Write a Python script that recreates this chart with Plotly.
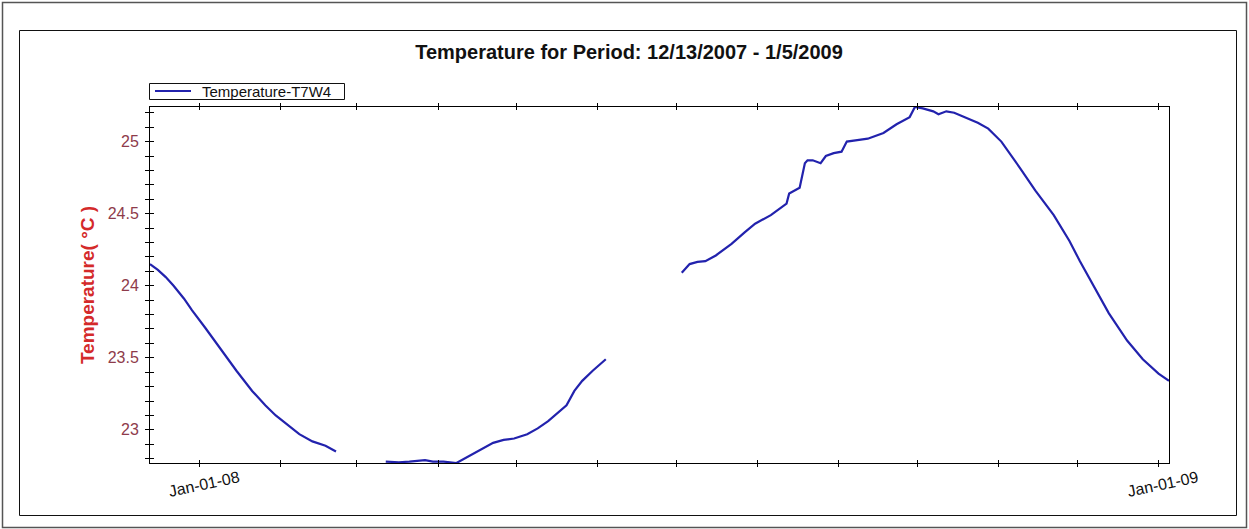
import plotly.graph_objects as go

# ---- data: water temperature readings, three logging periods ----
dates_1 = ["2007-12-13", "2007-12-16", "2007-12-19", "2007-12-22", "2007-12-26",
           "2007-12-29", "2008-01-03", "2008-01-07", "2008-01-11", "2008-01-15",
           "2008-01-21", "2008-01-26", "2008-01-30", "2008-02-04", "2008-02-08",
           "2008-02-13", "2008-02-18", "2008-02-22"]
temps_1 = [24.15, 24.11, 24.06, 24.00, 23.91,
           23.83, 23.71, 23.61, 23.51, 23.41,
           23.27, 23.17, 23.10, 23.03, 22.97,
           22.92, 22.89, 22.85]

dates_2 = ["2008-03-12", "2008-03-17", "2008-03-21", "2008-03-25", "2008-03-27",
           "2008-03-30", "2008-04-03", "2008-04-08", "2008-04-11", "2008-04-14",
           "2008-04-18", "2008-04-22", "2008-04-26", "2008-04-30", "2008-05-05",
           "2008-05-09", "2008-05-13", "2008-05-17", "2008-05-20", "2008-05-23",
           "2008-05-26", "2008-05-30", "2008-06-04"]
temps_2 = [22.78, 22.775, 22.78, 22.785, 22.79,
           22.78, 22.78, 22.77, 22.80, 22.83,
           22.87, 22.91, 22.93, 22.94, 22.97,
           23.01, 23.06, 23.12, 23.17, 23.27,
           23.34, 23.41, 23.49]

dates_3 = ["2008-07-03", "2008-07-06", "2008-07-09", "2008-07-12", "2008-07-16",
           "2008-07-22", "2008-07-27", "2008-07-31", "2008-08-06", "2008-08-11",
           "2008-08-12", "2008-08-13", "2008-08-16", "2008-08-17", "2008-08-19",
           "2008-08-20", "2008-08-22", "2008-08-25", "2008-08-27", "2008-08-30",
           "2008-09-02", "2008-09-04", "2008-09-08", "2008-09-12", "2008-09-18",
           "2008-09-23", "2008-09-28", "2008-09-30", "2008-10-03", "2008-10-07",
           "2008-10-09", "2008-10-12", "2008-10-15", "2008-10-19", "2008-10-24",
           "2008-10-28", "2008-11-02", "2008-11-09", "2008-11-15", "2008-11-22",
           "2008-11-28", "2008-12-02", "2008-12-07", "2008-12-13", "2008-12-20",
           "2008-12-26", "2009-01-01", "2009-01-05"]
temps_3 = [24.09, 24.15, 24.165, 24.17, 24.21,
           24.29, 24.37, 24.43, 24.49, 24.56,
           24.57, 24.64, 24.67, 24.68, 24.85,
           24.87, 24.87, 24.85, 24.90, 24.92,
           24.93, 25.00, 25.01, 25.02, 25.06,
           25.12, 25.17, 25.24, 25.23, 25.21,
           25.19, 25.21, 25.20, 25.17, 25.13,
           25.09, 25.00, 24.82, 24.66, 24.49,
           24.31, 24.17, 24.01, 23.81, 23.62,
           23.49, 23.39, 23.34]

month_ticks = ["2008-01-01", "2008-02-01", "2008-03-01", "2008-04-01", "2008-05-01",
               "2008-06-01", "2008-07-01", "2008-08-01", "2008-09-01", "2008-10-01",
               "2008-11-01", "2008-12-01", "2009-01-01"]
month_labels = ["Jan-01-08", "", "", "", "", "", "", "", "", "", "", "", "Jan-01-09"]

y_ticks = [23, 23.5, 24, 24.5, 25]
y_labels = ["23", "23.5", "24", "24.5", "25"]

x_range = ["2007-12-13", "2009-01-05"]
y_range = [22.77, 25.24]

series_name = "Temperature-T7W4"
series_color = "#2222ad"

# gaps between logging periods are left unconnected
dates = dates_1 + [None] + dates_2 + [None] + dates_3
temps = temps_1 + [None] + temps_2 + [None] + temps_3

W, H = 1249, 529
ML, MR, MT, MB = 150, 80, 107, 66
PW, PH = W - ML - MR, H - MT - MB


def px(x):
    """pixel column -> paper fraction"""
    return (x - ML) / PW


def py(y):
    """pixel row -> paper fraction"""
    return (H - MB - y) / PH


FONT = "Arial, Liberation Sans, sans-serif"

fig = go.Figure()
fig.add_trace(go.Scatter(
    x=dates, y=temps, mode="lines", name=series_name,
    line=dict(color=series_color, width=2.2), connectgaps=False,
    showlegend=False,
))
# companion axes carry the inward half of the crossing tick marks
fig.add_trace(go.Scatter(x=[], y=[], xaxis="x2", yaxis="y2",
                         showlegend=False, hoverinfo="skip"))

# compact boxed legend above the top-left corner of the plot
legend_shapes = [
    dict(type="rect", xref="paper", yref="paper",
         x0=px(149.5), x1=px(344.5), y0=py(99.5), y1=py(83.5),
         line=dict(color="#111111", width=1), fillcolor="white"),
    dict(type="line", xref="paper", yref="paper",
         x0=px(155), x1=px(191), y0=py(91), y1=py(91),
         line=dict(color=series_color, width=2.2)),
]
legend_text = dict(text=series_name, xref="paper", yref="paper",
                   x=px(200), y=py(91.5), xanchor="left", yanchor="middle",
                   showarrow=False,
                   font=dict(size=15, family=FONT, color="#111111"))

fig.update_layout(
    width=W, height=H, autosize=False,
    margin=dict(l=ML, r=MR, t=MT, b=MB, pad=0),
    paper_bgcolor="white", plot_bgcolor="white",
    font=dict(family=FONT, color="#000000"),
    title=dict(text="<b>Temperature for Period: 12/13/2007 - 1/5/2009</b>",
               font=dict(size=20, family=FONT, color="#111111"),
               x=629 / W, xref="container", xanchor="center",
               y=1 - 52 / H, yref="container", yanchor="middle"),
    showlegend=False,
    annotations=[legend_text],
    xaxis=dict(type="date", range=x_range, showgrid=False, zeroline=False,
               showline=True, linecolor="#000000", linewidth=1, mirror="ticks",
               tickmode="array", tickvals=month_ticks, ticktext=month_labels,
               ticks="outside", ticklen=3, tickcolor="#000000", tickwidth=1,
               tickangle=-12, ticklabelshift=39, ticklabelstandoff=-4,
               tickfont=dict(size=16, family=FONT, color="#111111")),
    xaxis2=dict(type="date", range=x_range, overlaying="x", showgrid=False,
                zeroline=False, showline=False, mirror="ticks",
                tickmode="array", tickvals=month_ticks, showticklabels=False,
                ticks="inside", ticklen=3, tickcolor="#000000", tickwidth=1),
    yaxis=dict(range=y_range, showgrid=False, zeroline=False,
               showline=True, linecolor="#000000", linewidth=1, mirror=True,
               tickmode="array", tickvals=y_ticks, ticktext=y_labels,
               ticks="outside", ticklen=4, tickcolor="#000000", tickwidth=1,
               minor=dict(dtick=0.1, tick0=23, ticks="outside", ticklen=4,
                          tickcolor="#000000", showgrid=False),
               ticklabelstandoff=3,
               tickfont=dict(size=16, family=FONT, color="#8e3b4b"),
               title=dict(text="<b>Temperature( °C )</b>", standoff=8,
                          font=dict(size=19, family=FONT, color="#d42a2a"))),
    yaxis2=dict(range=y_range, overlaying="y", side="left", showgrid=False,
                zeroline=False, showline=False,
                tickmode="array", tickvals=y_ticks, showticklabels=False,
                ticks="inside", ticklen=4, tickcolor="#000000", tickwidth=1,
                minor=dict(dtick=0.1, tick0=23, ticks="inside", ticklen=4,
                           tickcolor="#000000", showgrid=False)),
    shapes=[
        # inner chart frame
        dict(type="rect", xref="paper", yref="paper",
             x0=px(19.5), x1=px(1236.5), y0=py(515.5), y1=py(30.5),
             line=dict(color="#111111", width=1), fillcolor="rgba(0,0,0,0)",
             layer="below"),
        # outer border
        dict(type="rect", xref="paper", yref="paper",
             x0=px(2.5), x1=px(1246.5), y0=py(527.5), y1=py(2.5),
             line=dict(color="#555555", width=1.5), fillcolor="rgba(0,0,0,0)",
             layer="below"),
    ] + legend_shapes,
)

fig.write_html("out.html")
